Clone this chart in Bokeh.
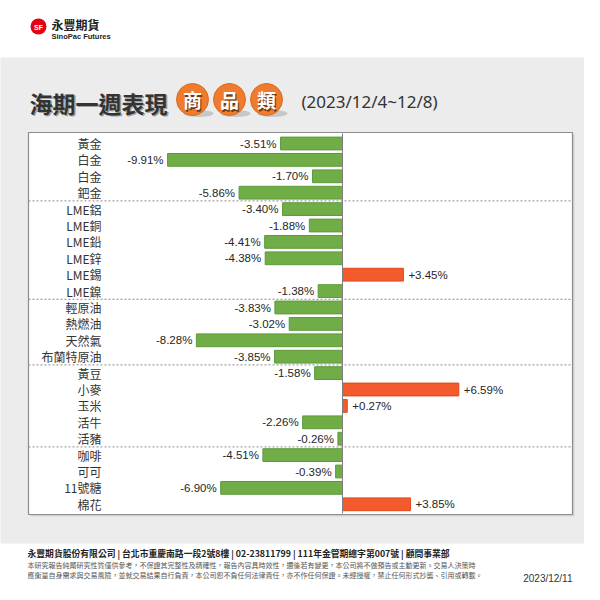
from bokeh.plotting import figure
from bokeh.models import Range1d, ColumnDataSource
from bokeh.core.properties import value
from bokeh.embed import file_html
from bokeh.resources import INLINE

# ---------------- data ----------------
categories = ["黃金", "白金", "白金", "鈀金",
              "LME鋁", "LME銅", "LME鉛", "LME鋅", "LME錫", "LME鎳",
              "輕原油", "熱燃油", "天然氣", "布蘭特原油",
              "黃豆", "小麥", "玉米", "活牛", "活豬",
              "咖啡", "可可", "11號糖", "棉花"]
changes = [-3.51, -9.91, -1.70, -5.86,
           -3.40, -1.88, -4.41, -4.38, 3.45, -1.38,
           -3.83, -3.02, -8.28, -3.85,
           -1.58, 6.59, 0.27, -2.26, -0.26,
           -4.51, -0.39, -6.90, 3.85]
group_sizes = [4, 6, 4, 5, 4]

title_text = "海期一週表現"
badge_chars = ["商", "品", "類"]
period_text = "(2023/12/4~12/8)"
company_cn = "永豐期貨"
company_en = "SinoPac Futures"
footer_main = "永豐期貨股份有限公司 | 台北市重慶南路一段2號8樓 | 02-23811799 | 111年金管期總字第007號 | 顧問事業部"
footer_l1 = "本研究報告純屬研究性質僅供參考，不保證其完整性及精確性，報告內容具時效性，邇後若有變更，本公司將不做預告或主動更新。交易人決策時"
footer_l2 = "應衡量自身需求與交易風險，並就交易結果自行負責，本公司恕不負任何法律責任，亦不作任何保證。未經授權，禁止任何形式抄襲、引用或轉載。"
report_date = "2023/12/11"

# ---------------- geometry helpers (page pixels -> data) ----------------
ZERO_PX, UNIT_PX, ROW0_PX, ROW_PX = 342.0, 17.65, 143.0, 16.4


def X(rx):
    return (rx - ZERO_PX) / UNIT_PX


def Y(ry):
    return (ry - ROW0_PX) / ROW_PX


CJK = value("Noto Sans CJK TC")
LAT = value("Liberation Sans")

p = figure(width=584, height=584,
           x_range=Range1d(X(0), X(584)), y_range=Range1d(Y(584), Y(0)),
           output_backend="svg", toolbar_location=None,
           x_axis_type=None, y_axis_type=None, min_border=0,
           outline_line_color=None)
p.grid.visible = False
p.background_fill_color = "white"
p.border_fill_color = "white"

# background band and chart box
p.quad(left=X(-10), right=X(600), top=Y(57), bottom=Y(543), fill_color="#ECECEC", line_color=None)
p.quad(left=X(30), right=X(574), top=Y(134), bottom=Y(516), fill_color="#d2d2d2", line_color=None)
p.quad(left=X(28), right=X(572), top=Y(132), bottom=Y(514), fill_color="white",
       line_color="#8c8c8c", line_width=1.2)

# group separators
breaks = []
acc = 0
for g in group_sizes[:-1]:
    acc += g
    breaks.append(acc - 0.5)
p.segment(x0=[X(28)] * len(breaks), x1=[X(572)] * len(breaks), y0=breaks, y1=breaks,
          line_color="#8a8a8a", line_dash="2 2", line_width=1)

# bars
idx = list(range(len(categories)))
fills = ["#F45B2C" if v > 0 else "#70AD47" for v in changes]
lines = ["#E2481A" if v > 0 else "#5E9A3A" for v in changes]
labels = [("+%.2f%%" % v) if v > 0 else ("%.2f%%" % v) for v in changes]
src = ColumnDataSource(dict(y=idx, v=changes, cat=categories, fill=fills, line=lines, lab=labels,
                            align=["left" if v > 0 else "right" for v in changes],
                            off=[5 if v > 0 else -4 for v in changes]))
p.hbar(y="y", left=0, right="v", height=0.78, fill_color="fill", line_color="line", line_width=1, source=src)

# zero line
p.segment(x0=[0], x1=[0], y0=[Y(133)], y1=[Y(513)], line_color="#7f7f7f", line_width=1)

# value labels
p.text(x="v", y="y", text="lab", x_offset="off", text_align="align", text_baseline="middle",
       text_font=LAT, text_font_size="11.5px", text_color="#262626", source=src)

# category labels
p.text(x=[X(101)] * len(categories), y=idx, text=categories, text_align="right", text_baseline="middle",
       text_font=CJK, text_font_size="12px", text_color="#333333")

# title
p.text(x=[X(29)], y=[Y(102)], text=[title_text], x_offset=1.5, y_offset=1.5,
       text_font=CJK, text_font_style="bold", text_font_size="23px", text_color="#a0a0a0",
       text_baseline="middle")
p.text(x=[X(29)], y=[Y(102)], text=[title_text],
       text_font=CJK, text_font_style="bold", text_font_size="23px", text_color="#333333",
       text_baseline="middle")

# badges
bx = [X(192), X(229), X(266)]
p.ellipse(x=[X(198), X(235), X(272)], y=[Y(113)] * 3, width=30, height=7,
          width_units="screen", height_units="screen", fill_color="#9c9c9c", fill_alpha=0.45, line_color=None)
p.scatter(x=bx, y=[Y(99)] * 3, size=32, marker="circle", fill_color="#EE7B2E", line_color="#DA6A22")
p.text(x=bx, y=[Y(99)] * 3, text=badge_chars, x_offset=1, y_offset=1.5,
       text_font=CJK, text_font_style="bold", text_font_size="19px", text_color="#6e3a18",
       text_align="center", text_baseline="middle")
p.text(x=bx, y=[Y(99)] * 3, text=badge_chars,
       text_font=CJK, text_font_style="bold", text_font_size="19px", text_color="white",
       text_align="center", text_baseline="middle")
p.text(x=[X(301)], y=[Y(101)], text=[period_text], text_font=value("Noto Sans"),
       text_font_size="17px", text_color="#333333", text_baseline="middle")

# logo
p.scatter(x=[X(38)], y=[Y(26)], size=16, marker="circle", fill_color="#E50012", line_color=None)
p.text(x=[X(38)], y=[Y(26.5)], text=["SF"], text_font=LAT, text_font_style="bold",
       text_font_size="7px", text_color="white", text_align="center", text_baseline="middle")
p.text(x=[X(51)], y=[Y(24)], text=[company_cn], text_font=CJK, text_font_style="bold",
       text_font_size="12px", text_color="#222222", text_baseline="middle")
p.text(x=[X(51)], y=[Y(35.5)], text=[company_en], text_font=LAT, text_font_style="bold",
       text_font_size="7.5px", text_color="#222222", text_baseline="middle")

# footer
p.text(x=[X(27)], y=[Y(553)], text=[footer_main], text_font=CJK, text_font_style="bold",
       text_font_size="8.8px", text_color="#222222", text_baseline="middle")
p.text(x=[X(27)], y=[Y(564.5)], text=[footer_l1], text_font=CJK,
       text_font_size="7px", text_color="#555555", text_baseline="middle")
p.text(x=[X(27)], y=[Y(574.5)], text=[footer_l2], text_font=CJK,
       text_font_size="7px", text_color="#555555", text_baseline="middle")
p.text(x=[X(572)], y=[Y(578)], text=[report_date], text_font=LAT,
       text_font_size="10px", text_color="#333333", text_align="right", text_baseline="middle")

open("out.html", "w").write(file_html(p, INLINE))
